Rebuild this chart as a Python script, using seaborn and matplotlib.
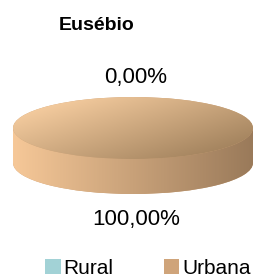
import numpy as np
import matplotlib
matplotlib.use("Agg")
import matplotlib.pyplot as plt
import seaborn as sns
from matplotlib.colors import LinearSegmentedColormap
from matplotlib.patches import Rectangle

# data
title = "Eusébio"
categories = ["Rural", "Urbana"]
values = [0.0, 100.0]

sns.set_theme(style="white")
plt.rcParams['font.family'] = ['Liberation Sans', 'DejaVu Sans']
plt.rcParams['text.color'] = "black"

W, H = 256, 277
fig = plt.figure(figsize=(W / 100, H / 100), dpi=100)
ax = fig.add_axes([0, 0, 1, 1])

# pixel geometry of the 3d disc
cx, cy = 133, 128
rx, ry = 120, 31
depth = 35 / ry

face_cols = [("#bfe6ea", "#7fb0b6"), ("#f4cb9e", "#a4845f")]
side_cols = [("#b0dbe0", "#6f9ea4"), ("#f6c898", "#9a7a5a")]
legend_cols = ["#a2d2d6", "#cfa47a"]

# side (bottom ellipse + band)
wedges_b, _ = ax.pie(values, colors=legend_cols, startangle=90,
                     counterclock=False, center=(0, -depth),
                     wedgeprops=dict(zorder=1, linewidth=0))
xs = np.linspace(-1, 1, 200)
side_grad = np.tile((xs + 1) / 2, (2, 1))
for i, v in enumerate(values):
    if v <= 0:
        continue
    cmap = LinearSegmentedColormap.from_list("s%d" % i, side_cols[i])
    band = Rectangle((-1, -depth), 2, depth, facecolor="none",
                     edgecolor="none")
    ax.add_patch(band)
    for clip in (wedges_b[i], band):
        img = ax.imshow(side_grad, cmap=cmap, extent=(-1, 1, -depth - 1, 0),
                        origin="lower", aspect="auto", zorder=2,
                        interpolation="bilinear")
        img.set_clip_path(clip)

# top face
wedges, _ = ax.pie(values, colors=legend_cols, startangle=90,
                   counterclock=False, center=(0, 0),
                   wedgeprops=dict(zorder=3, linewidth=0))
gx, gy = np.meshgrid(np.linspace(-1, 1, 200), np.linspace(-1, 1, 100))
top_grad = np.clip(0.5 + 0.38 * gx - 0.3 * gy, 0, 1)
for i, v in enumerate(values):
    if v <= 0:
        continue
    cmap = LinearSegmentedColormap.from_list("t%d" % i, face_cols[i])
    img = ax.imshow(top_grad, cmap=cmap, extent=(-1, 1, -1, 1),
                    origin="lower", aspect="auto", zorder=4,
                    interpolation="bilinear", vmin=0, vmax=1)
    img.set_clip_path(wedges[i])

# percentage labels outside the disc
total = sum(values)
cum = 0.0
for v in values:
    ang = np.deg2rad(90 - 360 * (cum + v / 2) / total)
    cum += v
    lx = 1.62 * np.cos(ang)
    ly = 1.62 * np.sin(ang)
    if ly < 0:
        ly -= depth + 0.2
    ax.text(lx + 3 / rx, ly, ("%.2f" % v).replace(".", ",") + "%",
            ha="center", va="center", fontsize=16, color="black")

ax.set_xlim((0 - cx) / rx, (W - cx) / rx)
ax.set_ylim((cy - H) / ry, cy / ry)
ax.set_aspect("auto")
ax.axis("off")

fig.text(97 / W, 1 - 25 / H, title, ha="center", va="center",
         fontsize=14, fontweight="bold", color="black")

fig.legend(wedges, categories, loc="center", bbox_to_anchor=(148 / W, 9 / H),
           ncol=2, frameon=False, fontsize=15, handlelength=0.75,
           handleheight=0.75, handletextpad=0.15, columnspacing=2.4,
           borderaxespad=0, labelcolor="black")

fig.savefig("out.png", dpi=100)
